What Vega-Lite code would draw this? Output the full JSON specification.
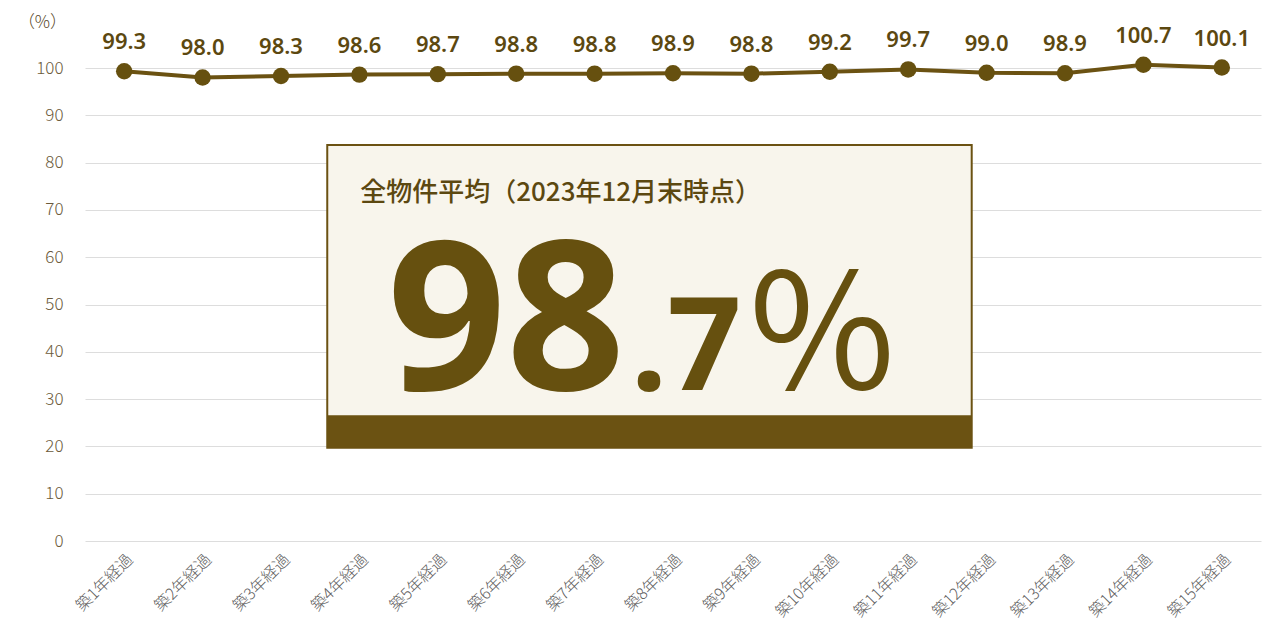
{
  "$schema": "https://vega.github.io/schema/vega-lite/v6.json",
  "width": 1176,
  "height": 473,
  "autosize": "none",
  "padding": {"left": 85, "top": 68, "right": 19, "bottom": 99},
  "background": "white",
  "config": {
    "view": {"stroke": null},
    "font": "Noto Sans CJK JP"
  },
  "datasets": {
    "series": [
      {"label": "築1年経過", "value": 99.3},
      {"label": "築2年経過", "value": 98.0},
      {"label": "築3年経過", "value": 98.3},
      {"label": "築4年経過", "value": 98.6},
      {"label": "築5年経過", "value": 98.7},
      {"label": "築6年経過", "value": 98.8},
      {"label": "築7年経過", "value": 98.8},
      {"label": "築8年経過", "value": 98.9},
      {"label": "築9年経過", "value": 98.8},
      {"label": "築10年経過", "value": 99.2},
      {"label": "築11年経過", "value": 99.7},
      {"label": "築12年経過", "value": 99.0},
      {"label": "築13年経過", "value": 98.9},
      {"label": "築14年経過", "value": 100.7},
      {"label": "築15年経過", "value": 100.1}
    ],
    "panel": [
      {"x0": 3.09, "x1": 11.31, "y0": 83.7, "y1": 19.7}
    ],
    "bar": [
      {"x0": 3.09, "x1": 11.31, "y0": 26.6, "y1": 19.7}
    ],
    "caption": [
      {"x": 3.51, "y": 73.6, "text": "全物件平均（2023年12月末時点）"}
    ],
    "big": [
      {"x": 6.89, "y": 31.9, "text": "98"}
    ],
    "dec": [
      {"x": 6.96, "y": 31.9, "text": ".7"}
    ],
    "pct": [
      {"x": 9.4, "y": 31.9, "text": "％"}
    ]
  },
  "resolve": {"scale": {"x": "independent"}},
  "layer": [
    {
      "data": {"name": "series"},
      "encoding": {
        "x": {
          "field": "label", "type": "nominal", "sort": null,
          "scale": {"paddingInner": 0, "paddingOuter": 0},
          "axis": {
            "title": null, "labelAngle": -45, "labelFontSize": 16,
            "labelColor": "#5f5f5f", "labelPadding": 10, "ticks": false,
            "domain": false, "grid": false, "labelFontWeight": 300
          }
        },
        "y": {
          "field": "value", "type": "quantitative",
          "scale": {"domain": [0, 100], "nice": false, "zero": true},
          "axis": {
            "values": [0, 10, 20, 30, 40, 50, 60, 70, 80, 90, 100],
            "title": "（%）", "titleAngle": 0, "titleX": -43, "titleY": -46,
            "titleAlign": "center", "titleBaseline": "middle",
            "titleFontSize": 17, "titleFontWeight": 300, "titleColor": "#5a4a2a",
            "labelFontSize": 17, "labelFontWeight": 300, "labelColor": "#6b5a3a", "labelPadding": 22,
            "ticks": false, "domain": false,
            "gridColor": "#dddddd", "gridWidth": 1
          }
        }
      },
      "layer": [
        {"mark": {"type": "line", "color": "#6b5212", "strokeWidth": 4, "clip": false}},
        {"mark": {"type": "point", "filled": true, "size": 270, "color": "#66500f", "opacity": 1, "clip": false}},
        {
          "mark": {"type": "text", "dy": -22, "baseline": "alphabetic", "fontSize": 22, "fontWeight": 600, "color": "#5c4810", "font": "Noto Sans"},
          "encoding": {"text": {"field": "value", "type": "quantitative", "format": ".1f"}}
        }
      ]
    },
    {
      "data": {"name": "panel"},
      "mark": {"type": "rect", "fill": "#f8f5ec", "stroke": "#6b5212", "strokeWidth": 2},
      "encoding": {
        "x": {"field": "x0", "type": "quantitative", "scale": {"domain": [0, 15], "nice": false, "zero": false}, "axis": null},
        "x2": {"field": "x1"},
        "y": {"field": "y0", "type": "quantitative"},
        "y2": {"field": "y1"}
      }
    },
    {
      "data": {"name": "bar"},
      "mark": {"type": "rect", "fill": "#6b5212"},
      "encoding": {
        "x": {"field": "x0", "type": "quantitative", "scale": {"domain": [0, 15], "nice": false, "zero": false}, "axis": null},
        "x2": {"field": "x1"},
        "y": {"field": "y0", "type": "quantitative"},
        "y2": {"field": "y1"}
      }
    },
    {
      "data": {"name": "caption"},
      "mark": {"type": "text", "align": "left", "baseline": "middle", "fontSize": 26, "fontWeight": 500, "color": "#5c4810"},
      "encoding": {
        "x": {"field": "x", "type": "quantitative", "scale": {"domain": [0, 15], "nice": false, "zero": false}, "axis": null},
        "y": {"field": "y", "type": "quantitative"},
        "text": {"field": "text"}
      }
    },
    {
      "data": {"name": "big"},
      "mark": {"type": "text", "align": "right", "baseline": "alphabetic", "fontSize": 208, "fontWeight": "bold", "color": "#66500f", "font": "Noto Sans"},
      "encoding": {
        "x": {"field": "x", "type": "quantitative", "scale": {"domain": [0, 15], "nice": false, "zero": false}, "axis": null},
        "y": {"field": "y", "type": "quantitative"},
        "text": {"field": "text"}
      }
    },
    {
      "data": {"name": "dec"},
      "mark": {"type": "text", "align": "left", "baseline": "alphabetic", "fontSize": 130, "fontWeight": "bold", "color": "#66500f", "font": "Noto Sans"},
      "encoding": {
        "x": {"field": "x", "type": "quantitative", "scale": {"domain": [0, 15], "nice": false, "zero": false}, "axis": null},
        "y": {"field": "y", "type": "quantitative"},
        "text": {"field": "text"}
      }
    },
    {
      "data": {"name": "pct"},
      "mark": {"type": "text", "align": "center", "baseline": "alphabetic", "fontSize": 158, "fontWeight": "normal", "color": "#66500f", "font": "Noto Sans CJK JP"},
      "encoding": {
        "x": {"field": "x", "type": "quantitative", "scale": {"domain": [0, 15], "nice": false, "zero": false}, "axis": null},
        "y": {"field": "y", "type": "quantitative"},
        "text": {"field": "text"}
      }
    }
  ]
}
